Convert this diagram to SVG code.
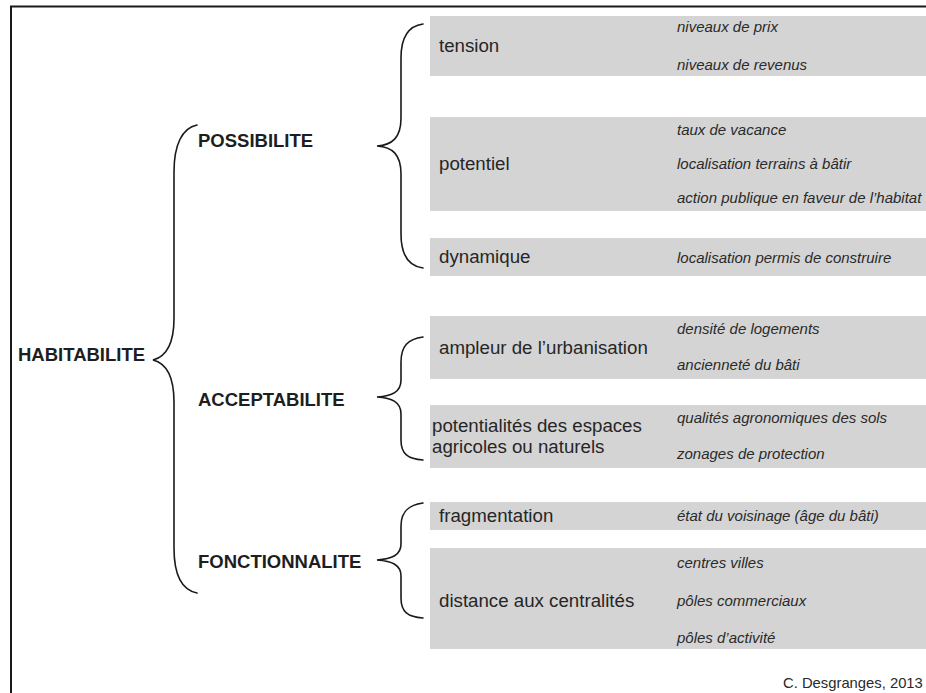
<svg xmlns="http://www.w3.org/2000/svg" width="926" height="693" viewBox="0 0 926 693">
<style>
.box{fill:#d4d4d4}
.brace{fill:none;stroke:#1a1a1a;stroke-width:1.6;stroke-linecap:round}
.main{font-family:"Liberation Sans",Arial,sans-serif;font-weight:bold;font-size:18.5px;fill:#1e1e1e}
.cat{font-family:"Liberation Sans",Arial,sans-serif;font-size:18.7px;fill:#262626}
.ind{font-family:"Liberation Sans",Arial,sans-serif;font-style:italic;font-size:15px;fill:#2a2a2a}
.credit{font-family:"Liberation Sans",Arial,sans-serif;font-size:14.8px;fill:#2a2a2a}
</style>
<rect width="926" height="693" fill="#ffffff"/>
<path d="M11,693 L11,6.5 L926,6.5" fill="none" stroke="#1a1a1a" stroke-width="2"/>

<g id="connectors">
<path class="brace" d="M197,125 C182,128 174,145 174,172 L174,318 C174,346 165,357 153,360 C165,363 174,374 174,402 L174,548 C174,575 182,590 197,593"/>
<path class="brace" d="M423,24 C408,26 401,38 401,58 L401,118 C401,138 392,145 377,146 C392,147 401,154 401,174 L401,234 C401,254 408,266 423,268"/>
<path class="brace" d="M423,337 C408,339 401,346 401,362 L401,380 C401,392 392,396 377,397 C392,398 401,402 401,414 L401,440 C401,454 408,459 423,460"/>
<path class="brace" d="M423,503 C408,505 401,512 401,526 L401,544 C401,555 392,559 377,560 C392,561 401,565 401,576 L401,598 C401,612 408,617 423,618"/>
</g>

<g id="habitabilite"><text class="main" x="18" y="361">HABITABILITE</text></g>
<g id="possibilite"><text class="main" x="198" y="147">POSSIBILITE</text></g>
<g id="acceptabilite"><text class="main" x="198" y="406">ACCEPTABILITE</text></g>
<g id="fonctionnalite"><text class="main" x="198" y="568">FONCTIONNALITE</text></g>

<g id="tension">
<rect class="box" x="430" y="16" width="496" height="60"/>
<text class="cat" x="439" y="52">tension</text>
<text class="ind" x="677" y="32">niveaux de prix</text>
<text class="ind" x="677" y="70">niveaux de revenus</text>
</g>
<g id="potentiel">
<rect class="box" x="430" y="117" width="496" height="94"/>
<text class="cat" x="439" y="170">potentiel</text>
<text class="ind" x="677" y="135">taux de vacance</text>
<text class="ind" x="677" y="169">localisation terrains à bâtir</text>
<text class="ind" x="677" y="203">action publique en faveur de l’habitat</text>
</g>
<g id="dynamique">
<rect class="box" x="430" y="238" width="496" height="38"/>
<text class="cat" x="439" y="263">dynamique</text>
<text class="ind" x="677" y="263">localisation permis de construire</text>
</g>
<g id="ampleur">
<rect class="box" x="430" y="316" width="496" height="63"/>
<text class="cat" x="439" y="354">ampleur de l’urbanisation</text>
<text class="ind" x="677" y="334">densité de logements</text>
<text class="ind" x="677" y="370">ancienneté du bâti</text>
</g>
<g id="potentialites">
<rect class="box" x="430" y="405" width="496" height="63"/>
<text class="cat" x="432" y="432">potentialités des espaces</text>
<text class="cat" x="432" y="453">agricoles ou naturels</text>
<text class="ind" x="677" y="423">qualités agronomiques des sols</text>
<text class="ind" x="677" y="459">zonages de protection</text>
</g>
<g id="fragmentation">
<rect class="box" x="430" y="502" width="496" height="28"/>
<text class="cat" x="439" y="522">fragmentation</text>
<text class="ind" x="677" y="521">état du voisinage (âge du bâti)</text>
</g>
<g id="distance">
<rect class="box" x="430" y="548" width="496" height="101"/>
<text class="cat" x="439" y="607">distance aux centralités</text>
<text class="ind" x="677" y="568">centres villes</text>
<text class="ind" x="677" y="606">pôles commerciaux</text>
<text class="ind" x="677" y="643">pôles d’activité</text>
</g>
<g id="credit"><text class="credit" x="783" y="688">C. Desgranges, 2013</text></g>
</svg>
